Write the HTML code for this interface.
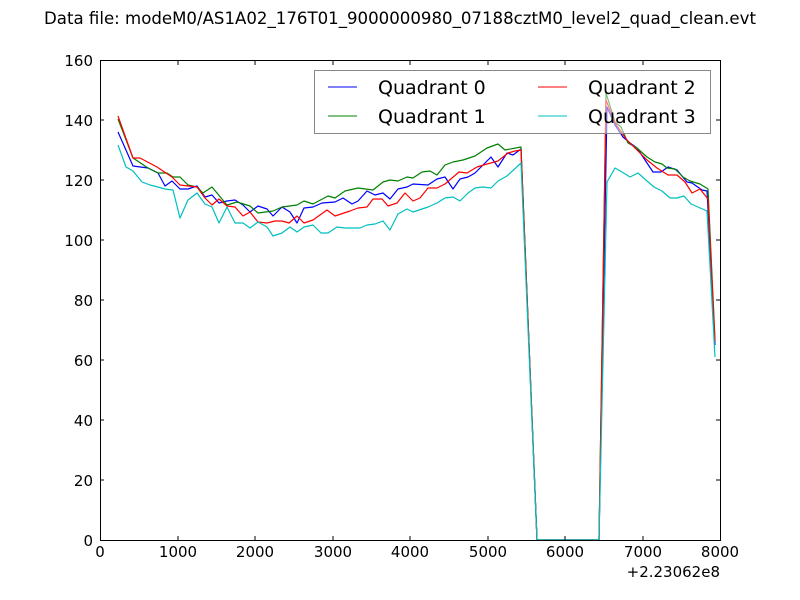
<!DOCTYPE html><html><head><style>body{margin:0;background:#fff}svg{display:block}text{font-family:"DejaVu Sans","Liberation Sans",sans-serif}</style></head><body>
<svg width="800" height="600" xmlns="http://www.w3.org/2000/svg">
<rect width="800" height="600" fill="#fff"/>
<text x="400" y="24" font-size="16.6" text-anchor="middle">Data file: modeM0/AS1A02_176T01_9000000980_07188cztM0_level2_quad_clean.evt</text>
<g fill="none" stroke-width="1.2" stroke-linejoin="round">
<polyline stroke="#0000ff" points="118,132 133,166 148,168 158,173 165,186 172,181 180,189 188,189 197,186 205,197 212,195 219,203 227,201 235,200 243,205 250,212 258,206 267,209 273,216 282,207 290,212 297,223 304,208 313,207 322,203 335,202 343,198 352,204 358,201 367,191 375,195 383,193 390,199 398,189 407,187 413,184 428,185 437,179 445,177 453,189 460,179 468,177 475,173 483,165 491,157 498,167 507,153 513,155 521,149 537,540 599,540 607,107 615,125 623,137 630,143 637,148 647,163 653,172 661,172 668,167 677,170 687,182 692,183 702,190 707,191 715,345"/>
<polyline stroke="#008000" points="118,119 133,158 148,168 158,173 167,173 173,177 180,177 188,185 197,187 203,193 212,187 227,205 237,202 250,206 258,213 273,211 282,207 297,205 304,201 313,204 328,196 335,198 345,191 358,188 373,190 383,182 390,180 398,181 407,177 413,178 422,172 430,171 437,175 445,165 453,162 463,160 475,156 487,148 498,144 505,150 521,147 537,540 599,540 606,93 615,122 621,127 628,143 637,148 647,157 655,162 662,164 667,168 675,169 683,177 690,181 700,184 708,189 715,340"/>
<polyline stroke="#ff0000" points="118,116 133,158 140,158 157,167 172,177 180,185 197,187 205,198 212,205 219,199 227,206 235,207 243,216 250,212 258,222 267,223 275,221 282,221 289,223 297,216 304,223 313,220 327,210 335,216 350,211 358,208 367,207 373,199 382,199 388,206 397,203 405,193 413,201 420,198 428,188 437,188 445,184 452,178 459,172 467,173 477,167 487,164 498,161 508,153 515,151 521,150 537,540 599,540 606,100 615,123 627,140 637,150 647,160 657,168 668,175 677,175 685,182 692,193 700,189 708,199 715,342"/>
<polyline stroke="#00bfbf" points="118,145 126,167 133,171 142,182 150,185 158,187 165,189 173,190 180,218 188,200 197,193 205,204 212,207 219,223 227,207 235,223 243,223 250,228 258,222 267,227 273,236 282,233 290,227 297,232 304,227 313,225 321,233 328,233 337,227 345,228 360,228 367,225 375,224 383,221 390,230 398,214 407,209 413,212 428,207 437,203 445,198 453,197 460,201 468,193 475,188 483,187 491,188 498,181 507,176 521,163 537,540 599,540 607,182 615,168 622,172 630,177 638,173 647,181 654,187 662,191 670,198 677,198 684,196 691,204 698,207 707,211 715,357"/>
</g>
<rect x="314.5" y="70.5" width="396" height="63" fill="#fff" fill-opacity="0.5" stroke="#888"/>
<g stroke-width="1.1"><line x1="328" y1="87" x2="357" y2="87" stroke="#00f"/><line x1="328" y1="116" x2="357" y2="116" stroke="#008000"/><line x1="538" y1="87" x2="567" y2="87" stroke="#f00"/><line x1="538" y1="116" x2="567" y2="116" stroke="#00bfbf"/></g>
<g font-size="19"><text x="378" y="94">Quadrant 0</text><text x="378" y="123">Quadrant 1</text><text x="588" y="94">Quadrant 2</text><text x="588" y="123">Quadrant 3</text></g>
<rect x="100.5" y="60.5" width="620" height="480" fill="none" stroke="#000"/>
<g stroke="#000">
<line x1="178" y1="540" x2="178" y2="536"/><line x1="255" y1="540" x2="255" y2="536"/><line x1="333" y1="540" x2="333" y2="536"/><line x1="410" y1="540" x2="410" y2="536"/><line x1="488" y1="540" x2="488" y2="536"/><line x1="565" y1="540" x2="565" y2="536"/><line x1="643" y1="540" x2="643" y2="536"/>
<line x1="178" y1="61" x2="178" y2="65"/><line x1="255" y1="61" x2="255" y2="65"/><line x1="333" y1="61" x2="333" y2="65"/><line x1="410" y1="61" x2="410" y2="65"/><line x1="488" y1="61" x2="488" y2="65"/><line x1="565" y1="61" x2="565" y2="65"/><line x1="643" y1="61" x2="643" y2="65"/>
<line x1="100" y1="120" x2="104" y2="120"/><line x1="100" y1="180" x2="104" y2="180"/><line x1="100" y1="240" x2="104" y2="240"/><line x1="100" y1="300" x2="104" y2="300"/><line x1="100" y1="360" x2="104" y2="360"/><line x1="100" y1="420" x2="104" y2="420"/><line x1="100" y1="480" x2="104" y2="480"/>
<line x1="720" y1="120" x2="716" y2="120"/><line x1="720" y1="180" x2="716" y2="180"/><line x1="720" y1="240" x2="716" y2="240"/><line x1="720" y1="300" x2="716" y2="300"/><line x1="720" y1="360" x2="716" y2="360"/><line x1="720" y1="420" x2="716" y2="420"/><line x1="720" y1="480" x2="716" y2="480"/>
</g>
<g font-size="15" text-anchor="middle"><text x="100" y="557">0</text><text x="178" y="557">1000</text><text x="255" y="557">2000</text><text x="333" y="557">3000</text><text x="410" y="557">4000</text><text x="488" y="557">5000</text><text x="565" y="557">6000</text><text x="643" y="557">7000</text><text x="720" y="557">8000</text></g>
<text x="720" y="577" font-size="15" text-anchor="end">+2.23062e8</text>
<g font-size="15" text-anchor="end"><text x="93" y="66">160</text><text x="93" y="126">140</text><text x="93" y="186">120</text><text x="93" y="246">100</text><text x="93" y="306">80</text><text x="93" y="366">60</text><text x="93" y="426">40</text><text x="93" y="486">20</text><text x="93" y="546">0</text></g>
</svg></body></html>
